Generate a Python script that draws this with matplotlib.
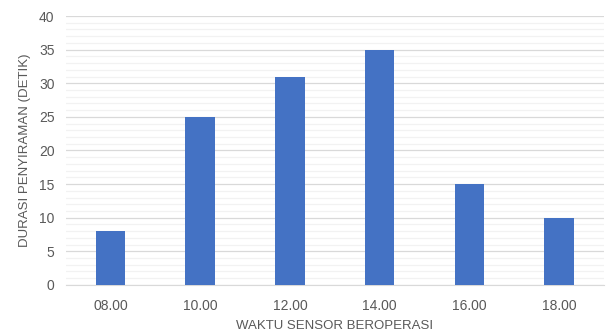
import matplotlib
matplotlib.use("Agg")
import matplotlib.pyplot as plt
from matplotlib.ticker import MultipleLocator

# data
waktu = ["08.00", "10.00", "12.00", "14.00", "16.00", "18.00"]
durasi = [8, 25, 31, 35, 15, 10]

plt.rcParams['font.family'] = ['Liberation Sans', 'DejaVu Sans']

fig = plt.figure(figsize=(6.11, 3.34), dpi=100)
ax = fig.add_axes([0.1075, 0.147, 0.881, 0.805])

ax.bar(range(len(waktu)), durasi, width=0.33, color="#4472C4", zorder=3)

ax.set_xlim(-0.5, len(waktu) - 0.5)
ax.set_ylim(0, 40)
ax.yaxis.set_major_locator(MultipleLocator(5))
ax.yaxis.set_minor_locator(MultipleLocator(1))
ax.grid(axis="y", which="major", color="#D9D9D9", linewidth=0.9, zorder=0)
ax.grid(axis="y", which="minor", color="#F2F2F2", linewidth=0.9, zorder=0)

ax.set_xticks(range(len(waktu)))
ax.set_xticklabels(waktu)
ax.tick_params(axis="both", which="both", length=0, labelsize=10, labelcolor="#595959")
ax.tick_params(axis="x", pad=10)
ax.tick_params(axis="y", pad=8)

for s in ["top", "right", "left"]:
    ax.spines[s].set_visible(False)
ax.spines["bottom"].set_color("#D9D9D9")

ax.set_xlabel("WAKTU SENSOR BEROPERASI", fontsize=9.5, color="#595959", labelpad=5)
ax.set_ylabel("DURASI PENYIRAMAN (DETIK)", fontsize=9.5, color="#595959", labelpad=6)

fig.savefig("out.png", dpi=100)
